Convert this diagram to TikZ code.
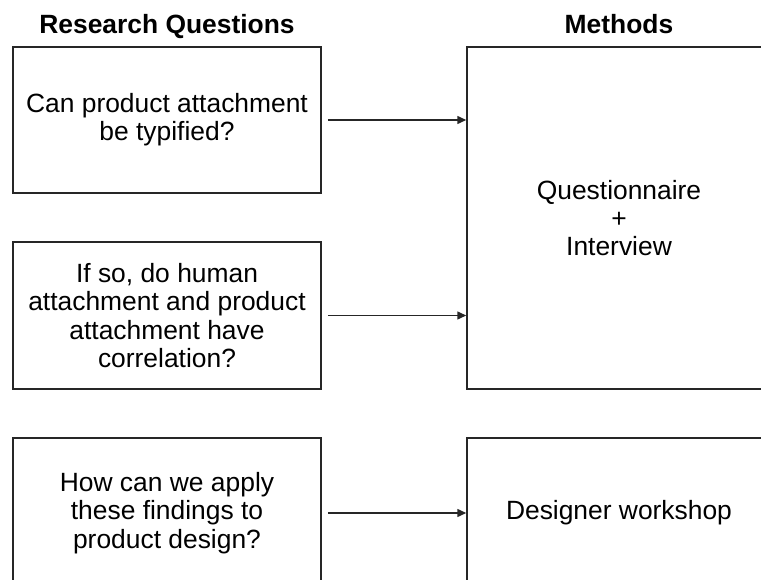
\documentclass[tikz,border=0pt]{standalone}
\usepackage{fontspec}
\setmainfont{Liberation Sans}
\usetikzlibrary{arrows.meta,calc}
\begin{document}
\begin{tikzpicture}[x=1pt,y=1pt,
  box/.style={draw=black!85, line width=1.5pt, rectangle, align=center, inner sep=0pt,
    font=\fontsize{26.4}{28.3}\selectfont},
  head/.style={font=\fontsize{26.4}{28.3}\selectfont\bfseries, inner sep=0pt, anchor=base},
  arr/.style={draw=black!85, line width=1.5pt, -{Triangle[length=9pt,width=8pt]}}
]
\useasboundingbox (0,0) rectangle (761,-580);
\clip (0,0) rectangle (761,-580);
\node[head] (h1) at (167,-34) {Research Questions};
\node[head] (h2) at (619,-34) {Methods};
\node[box, minimum width=308pt, minimum height=146pt] (q1) at (167,-120) {Can product attachment\\be typified?};
\node[box, minimum width=308pt, minimum height=147pt] (q2) at (167,-315.5) {If so, do human\\attachment and product\\attachment have\\correlation?};
\node[box, minimum width=308pt, minimum height=150pt] (q3) at (167,-513) {How can we apply\\these findings to\\product design?};
\node[box, minimum width=304pt, minimum height=342pt] (m1) at (619,-218) {Questionnaire\\+\\Interview};
\node[box, minimum width=304pt, minimum height=150pt] (m2) at (619,-513) {Designer workshop};
\draw[arr] ($(q1.east)+(6pt,0)$) -- (m1.west |- q1.east);
\draw[arr] ($(q2.east)+(6pt,0)$) -- (m1.west |- q2.east);
\draw[arr] ($(q3.east)+(6pt,0)$) -- (m2.west |- q3.east);
\end{tikzpicture}
\end{document}
